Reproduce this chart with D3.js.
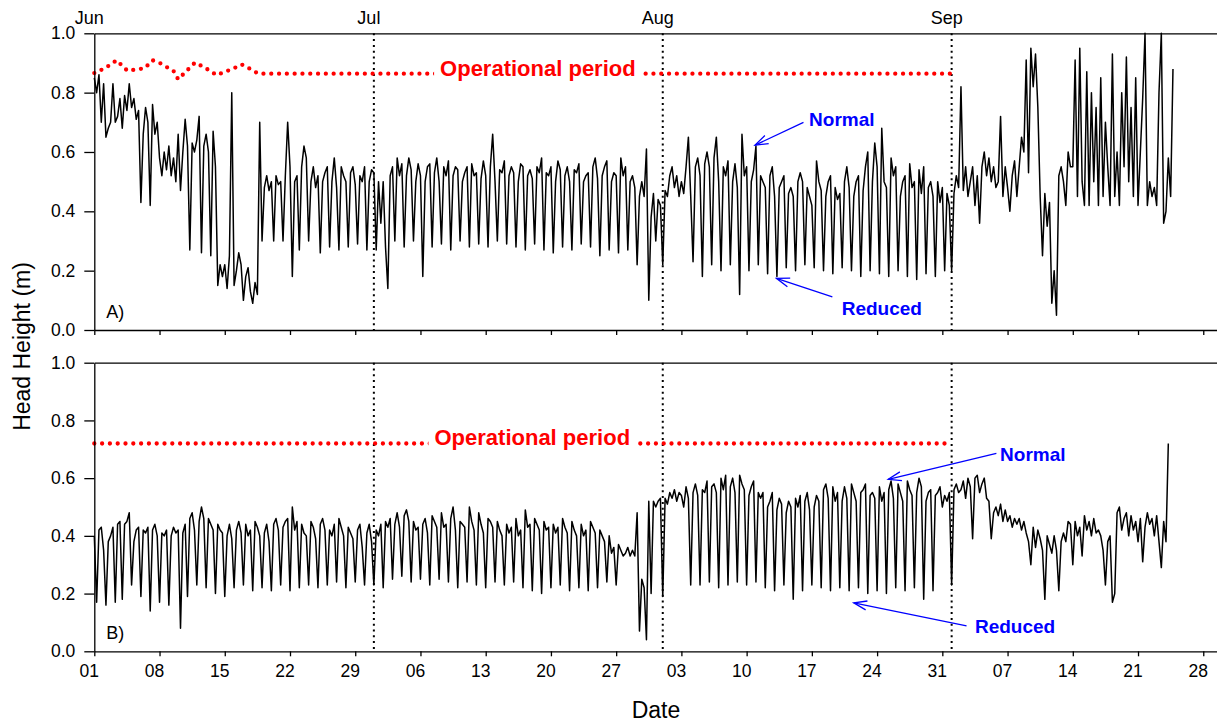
<!DOCTYPE html>
<meta charset="utf-8">
<script src="https://d3js.org/d3.v7.min.js"></script>
<style>
  body { margin: 0; background: #fff; }
  svg { font-family: Arial, "Liberation Sans", sans-serif; }
  .axis path, .axis line { stroke: #000; stroke-width: 1.3; }
  .axis text { font-size: 17.5px; fill: #000; }
</style>
<body>
<div id="chart"></div>
<script>

// readings every 6 hours starting 1 Jun 00:00
var startDate = new Date(Date.UTC(2014, 5, 1));
var endDate = new Date(Date.UTC(2014, 8, 30));

// panel A head height (m)
var headA = [
0.85,0.80,0.86,0.70, 0.83,0.65,0.68,0.70, 0.83,0.70,0.72,0.78, 0.68,0.79,0.74,0.83, 0.75,0.78,0.71,0.74, 0.43,0.66,0.75,0.70, 0.42,0.76,0.66,0.70,
0.58,0.52,0.60,0.54, 0.62,0.52,0.58,0.50, 0.66,0.47,0.60,0.71, 0.62,0.27,0.63,0.60, 0.64,0.72,0.26,0.62, 0.66,0.60,0.25,0.67, 0.55,0.15,0.22,0.18,
0.22,0.14,0.25,0.80, 0.15,0.20,0.26,0.22, 0.10,0.18,0.21,0.13, 0.09,0.16,0.12,0.70, 0.30,0.48,0.52,0.47, 0.50,0.30,0.52,0.49, 0.50,0.30,0.52,0.70,
0.55,0.18,0.50,0.52, 0.27,0.55,0.62,0.58, 0.30,0.50,0.55,0.48, 0.52,0.26,0.50,0.53, 0.55,0.28,0.50,0.58, 0.48,0.27,0.55,0.52, 0.50,0.28,0.53,0.55,
0.49,0.29,0.52,0.50, 0.55,0.27,0.50,0.54, 0.53,0.27,0.50,0.36, 0.50,0.28,0.14,0.52, 0.55,0.30,0.58,0.52, 0.56,0.28,0.52,0.58, 0.54,0.30,0.50,0.56,
0.52,0.18,0.50,0.55, 0.56,0.28,0.53,0.58, 0.50,0.29,0.55,0.52, 0.57,0.27,0.52,0.55, 0.54,0.30,0.50,0.53, 0.55,0.28,0.56,0.52, 0.53,0.29,0.51,0.57,
0.52,0.28,0.55,0.66, 0.50,0.30,0.54,0.53, 0.57,0.29,0.52,0.55, 0.53,0.28,0.50,0.56, 0.55,0.27,0.52,0.54, 0.51,0.29,0.55,0.53, 0.58,0.27,0.53,0.52,
0.55,0.26,0.50,0.57, 0.54,0.28,0.52,0.55, 0.50,0.27,0.54,0.53, 0.56,0.29,0.50,0.52, 0.53,0.28,0.55,0.58, 0.51,0.25,0.52,0.55, 0.57,0.27,0.50,0.53,
0.52,0.26,0.58,0.52, 0.55,0.27,0.50,0.52, 0.48,0.22,0.45,0.50, 0.45,0.61,0.10,0.38, 0.46,0.30,0.44,0.42, 0.22,0.47,0.45,0.52, 0.55,0.48,0.52,0.45,
0.50,0.46,0.55,0.65, 0.45,0.23,0.55,0.58, 0.52,0.18,0.56,0.60, 0.55,0.22,0.58,0.65, 0.50,0.20,0.55,0.52, 0.57,0.22,0.50,0.56, 0.48,0.12,0.66,0.52,
0.55,0.20,0.50,0.54, 0.62,0.22,0.52,0.50, 0.48,0.19,0.52,0.55, 0.45,0.18,0.48,0.50, 0.52,0.21,0.46,0.48, 0.45,0.20,0.50,0.53, 0.50,0.22,0.48,0.45,
0.42,0.21,0.57,0.50, 0.47,0.20,0.45,0.50, 0.52,0.19,0.48,0.44, 0.46,0.21,0.50,0.55, 0.48,0.20,0.45,0.50, 0.52,0.18,0.47,0.55, 0.60,0.20,0.50,0.63,
0.55,0.19,0.68,0.50, 0.48,0.18,0.58,0.52, 0.55,0.20,0.45,0.50, 0.52,0.18,0.56,0.48, 0.50,0.17,0.54,0.46, 0.55,0.19,0.48,0.50, 0.45,0.18,0.50,0.43,
0.48,0.20,0.46,0.42, 0.20,0.46,0.52,0.48, 0.82,0.47,0.55,0.45, 0.50,0.55,0.42,0.52, 0.36,0.55,0.60,0.52, 0.58,0.50,0.55,0.48, 0.50,0.72,0.45,0.55,
0.48,0.40,0.52,0.57, 0.45,0.55,0.65,0.60, 0.91,0.53,0.95,0.82, 0.93,0.75,0.45,0.25, 0.46,0.35,0.43,0.09, 0.20,0.05,0.52,0.55, 0.50,0.42,0.60,0.55,
0.55,0.91,0.45,0.95, 0.50,0.42,0.87,0.42, 0.80,0.50,0.75,0.42, 0.85,0.45,0.70,0.55, 0.42,0.93,0.45,0.60, 0.42,0.80,0.55,0.92, 0.50,0.75,0.45,0.85,
0.42,0.60,0.78,1.00, 0.42,0.50,0.45,0.48, 0.42,0.80,1.00,0.36, 0.40,0.58,0.45,0.88
];

// panel B head height (m)
var headB = [
0.40,0.17,0.42,0.43, 0.35,0.16,0.38,0.40, 0.43,0.17,0.44,0.45, 0.18,0.44,0.45,0.48, 0.23,0.38,0.42,0.43, 0.19,0.42,0.41,0.43, 0.14,0.42,0.44,0.40,
0.17,0.41,0.40,0.42, 0.16,0.40,0.43,0.41, 0.42,0.08,0.41,0.44, 0.19,0.46,0.48,0.42, 0.23,0.45,0.50,0.46, 0.22,0.46,0.44,0.42, 0.20,0.44,0.42,0.41,
0.19,0.40,0.44,0.39, 0.22,0.42,0.45,0.41, 0.23,0.44,0.40,0.42, 0.21,0.45,0.43,0.40, 0.22,0.41,0.44,0.38, 0.21,0.44,0.46,0.42, 0.23,0.43,0.45,0.46,
0.21,0.50,0.42,0.45, 0.22,0.44,0.41,0.40, 0.23,0.45,0.43,0.39, 0.22,0.44,0.46,0.42, 0.23,0.42,0.40,0.44, 0.24,0.46,0.43,0.40, 0.22,0.43,0.41,0.39,
0.24,0.42,0.44,0.36, 0.23,0.41,0.44,0.38, 0.23,0.42,0.40,0.44, 0.22,0.45,0.43,0.46, 0.25,0.44,0.48,0.43, 0.26,0.47,0.49,0.45, 0.24,0.45,0.42,0.43,
0.25,0.44,0.46,0.41, 0.23,0.47,0.45,0.43, 0.25,0.48,0.43,0.44, 0.24,0.46,0.50,0.42, 0.22,0.45,0.44,0.43, 0.24,0.50,0.45,0.42, 0.23,0.48,0.44,0.41,
0.22,0.46,0.45,0.43, 0.24,0.45,0.42,0.40, 0.23,0.44,0.41,0.43, 0.24,0.46,0.40,0.42, 0.22,0.49,0.43,0.44, 0.21,0.46,0.44,0.42, 0.20,0.45,0.42,0.43,
0.22,0.44,0.41,0.43, 0.23,0.46,0.43,0.41, 0.21,0.45,0.42,0.40, 0.22,0.44,0.40,0.42, 0.21,0.45,0.43,0.41, 0.22,0.42,0.40,0.38, 0.24,0.40,0.34,0.36,
0.23,0.37,0.35,0.33, 0.34,0.36,0.33,0.35, 0.33,0.48,0.07,0.25, 0.22,0.04,0.52,0.20, 0.52,0.50,0.52,0.53, 0.19,0.53,0.51,0.55, 0.53,0.56,0.52,0.55,
0.54,0.50,0.57,0.53, 0.23,0.55,0.58,0.54, 0.23,0.56,0.55,0.59, 0.24,0.57,0.58,0.55, 0.22,0.60,0.56,0.61, 0.23,0.57,0.60,0.55, 0.24,0.61,0.58,0.56,
0.23,0.54,0.57,0.59, 0.24,0.55,0.53,0.55, 0.22,0.50,0.52,0.55, 0.21,0.49,0.53,0.51, 0.23,0.48,0.52,0.50, 0.18,0.53,0.50,0.54, 0.21,0.52,0.55,0.49,
0.23,0.50,0.54,0.52, 0.22,0.56,0.58,0.53, 0.21,0.57,0.52,0.55, 0.22,0.52,0.57,0.53, 0.21,0.58,0.55,0.52, 0.22,0.55,0.56,0.58, 0.20,0.54,0.55,0.53,
0.21,0.57,0.52,0.55, 0.20,0.56,0.59,0.53, 0.22,0.58,0.55,0.52, 0.21,0.59,0.56,0.54, 0.22,0.55,0.60,0.57, 0.18,0.52,0.55,0.56, 0.21,0.54,0.55,0.57,
0.50,0.54,0.52,0.55, 0.23,0.56,0.58,0.55, 0.56,0.59,0.53,0.60, 0.57,0.39,0.60,0.61, 0.55,0.58,0.60,0.53, 0.52,0.39,0.48,0.50, 0.47,0.51,0.45,0.49,
0.45,0.47,0.43,0.46, 0.44,0.46,0.42,0.45, 0.41,0.38,0.30,0.43, 0.36,0.42,0.39,0.35, 0.18,0.40,0.37,0.34, 0.40,0.35,0.21,0.38, 0.41,0.38,0.45,0.44,
0.30,0.45,0.40,0.43, 0.33,0.47,0.42,0.45, 0.40,0.46,0.41,0.42, 0.40,0.35,0.23,0.38, 0.40,0.17,0.20,0.48, 0.50,0.42,0.46,0.48, 0.40,0.47,0.42,0.45,
0.38,0.46,0.31,0.43, 0.48,0.44,0.46,0.40, 0.47,0.38,0.29,0.45, 0.38,0.72
];

// operational period level (day offset from 1 Jun, value)
var opDaysA = [0, 1.2, 2.4, 3.3, 3.6, 4.4, 5.4, 6.25, 7.15, 8.05, 8.5, 9.0, 9.9, 10.8, 11.7, 12.6, 13.1, 14.0, 14.9, 15.8, 16.8, 17.6, 92];
var opValsA = [0.866, 0.883, 0.909, 0.881, 0.873, 0.878, 0.882, 0.909, 0.898, 0.881, 0.873, 0.845, 0.873, 0.901, 0.887, 0.870, 0.859, 0.870, 0.881, 0.895, 0.879, 0.864, 0.864];
var opDaysB = [0, 92];
var opValsB = [0.72, 0.72];

var monthStarts = [new Date(Date.UTC(2014, 5, 1)), new Date(Date.UTC(2014, 6, 1)), new Date(Date.UTC(2014, 7, 1)), new Date(Date.UTC(2014, 8, 1))];
var weekTicks = d3.utcDay.range(startDate, endDate, 7);
var yTicks = [0, 0.2, 0.4, 0.6, 0.8, 1.0];

// annotations: [label, text day, text value, arrow from day, from value, to day, to value]
var notesA = [["Normal", 76.7, 0.688, 76.1, 0.70, 70.9, 0.623], ["Reduced", 80.2, 0.051, 79.2, 0.112, 73.2, 0.174]];
var notesB = [["Normal", 97.2, 0.660, 96.8, 0.686, 85.2, 0.596], ["Reduced", 94.5, 0.062, 93.6, 0.088, 81.5, 0.168]];
var opLabelA = [47.6, 0.856];
var opLabelB = [47.0, 0.714];

function dayToDate(d) { return new Date(startDate.getTime() + d * 864e5); }

var W = 1217, H = 723;
var svg = d3.select("#chart").append("svg").attr("width", W).attr("height", H);

svg.append("defs").append("marker")
    .attr("id", "arrow").attr("markerUnits", "userSpaceOnUse")
    .attr("viewBox", "-14 -6 16 12").attr("refX", 0).attr("refY", 0)
    .attr("markerWidth", 16).attr("markerHeight", 12).attr("orient", "auto")
  .append("path").attr("d", "M-13,-4.5L0,0L-13,4.5")
    .attr("fill", "none").attr("stroke", "#0000ff").attr("stroke-width", 1.3);

var x = d3.scaleUtc().domain([startDate, endDate]).range([94.3, 94.3 + 121 * 9.319]);

var panels = [
  {name: "A)", vals: headA, opD: opDaysA, opV: opValsA, opLabel: opLabelA, notes: notesA, top: 33.3, bottom: 330, labels: false},
  {name: "B)", vals: headB, opD: opDaysB, opV: opValsB, opLabel: opLabelB, notes: notesB, top: 362.7, bottom: 651.3, labels: true}
];

panels.forEach(function(p, pi) {
  var y = d3.scaleLinear().domain([0, 1]).range([p.bottom, p.top]);
  var g = svg.append("g");

  // month divider lines
  g.selectAll(".mline").data(monthStarts.slice(1)).enter().append("line")
    .attr("x1", function(d) { return x(d); }).attr("x2", function(d) { return x(d); })
    .attr("y1", p.top).attr("y2", p.bottom)
    .attr("stroke", "#000").attr("stroke-width", 2).attr("stroke-dasharray", "2,3.8");

  // operational period dotted line
  var opLine = d3.line().x(function(d, i) { return x(dayToDate(p.opD[i])); }).y(function(d) { return y(d); });
  g.append("path").attr("d", opLine(p.opV))
    .attr("fill", "none").attr("stroke", "#ff0000").attr("stroke-width", 4.3)
    .attr("stroke-linecap", "round").attr("stroke-dasharray", "0,7.8");

  var opText = g.append("text")
    .attr("x", x(dayToDate(p.opLabel[0]))).attr("y", y(p.opLabel[1]))
    .attr("text-anchor", "middle").attr("font-size", "22px").attr("font-weight", "bold")
    .attr("fill", "#ff0000").text("Operational period");
  var bb = opText.node().getBBox();
  g.insert("rect", "text").attr("x", bb.x - 6).attr("y", bb.y).attr("width", bb.width + 12).attr("height", bb.height)
    .attr("fill", "#fff");

  // data line
  var line = d3.line()
    .x(function(d, i) { return x(new Date(startDate.getTime() + i * 6 * 36e5)); })
    .y(function(d) { return y(d); });
  g.append("path").attr("d", line(p.vals))
    .attr("fill", "none").attr("stroke", "#000").attr("stroke-width", 1.5).attr("stroke-linejoin", "round");

  // axes
  var yAxis = d3.axisLeft(y).tickValues(yTicks).tickFormat(d3.format(".1f")).tickSize(10).tickSizeOuter(0).tickPadding(9);
  g.append("g").attr("class", "axis").attr("transform", "translate(" + x.range()[0] + ",0)").call(yAxis);

  var xAxis = d3.axisBottom(x).tickValues(weekTicks).tickSize(5).tickSizeOuter(0).tickPadding(8)
    .tickFormat(p.labels ? d3.utcFormat("%d") : "");
  var xg = g.append("g").attr("class", "axis").attr("transform", "translate(0," + p.bottom + ")").call(xAxis);
  xg.selectAll("text").attr("dx", -5.5);

  var topAxis = d3.axisTop(x).tickSize(0).tickSizeOuter(0).tickPadding(9)
    .tickValues(pi === 0 ? monthStarts : []).tickFormat(d3.utcFormat("%b"));
  var tg = g.append("g").attr("class", "axis").attr("transform", "translate(0," + p.top + ")").call(topAxis);
  tg.selectAll("text").attr("dx", -5.5).style("font-size", "18px");

  // panel label
  g.append("text").attr("x", x.range()[0] + 12).attr("y", p.bottom - 12.5)
    .attr("font-size", "18px").text(p.name);

  // annotations
  p.notes.forEach(function(n) {
    g.append("text").attr("x", x(dayToDate(n[1]))).attr("y", y(n[2]))
      .attr("font-size", "19px").attr("font-weight", "bold").attr("fill", "#0000ff").text(n[0]);
    g.append("line")
      .attr("x1", x(dayToDate(n[3]))).attr("y1", y(n[4]))
      .attr("x2", x(dayToDate(n[5]))).attr("y2", y(n[6]))
      .attr("stroke", "#0000ff").attr("stroke-width", 1.3).attr("marker-end", "url(#arrow)");
  });
});

// axis titles
svg.append("text").attr("transform", "translate(30,346.5)rotate(-90)")
  .attr("text-anchor", "middle").attr("font-size", "23px").text("Head Height (m)");
svg.append("text").attr("x", 656).attr("y", 717.5)
  .attr("text-anchor", "middle").attr("font-size", "23px").text("Date");

</script>
</body>
